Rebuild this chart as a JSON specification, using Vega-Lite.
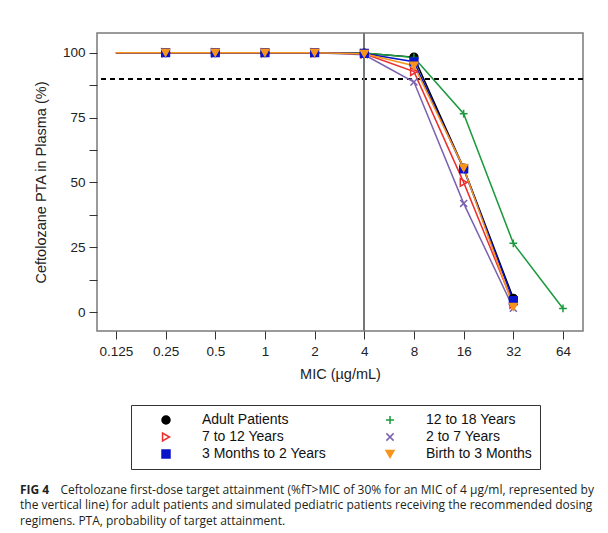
{
  "$schema": "https://vega.github.io/schema/vega-lite/v6.json",
  "autosize": {"type": "none"},
  "padding": {"left": 97, "top": 33, "right": 25, "bottom": 202},
  "width": 486,
  "height": 298,
  "background": "white",
  "title": {
    "text": "FIG 4",
    "subtitle": [
      "\u200b\u00a0\u00a0\u00a0\u00a0\u00a0\u00a0\u00a0\u00a0\u00a0\u00a0\u00a0\u00a0\u00a0Ceftolozane first-dose target attainment (%fT>MIC of 30% for an MIC of 4 µg/ml, represented by",
      "the vertical line) for adult patients and simulated pediatric patients receiving the recommended dosing",
      "regimens. PTA, probability of target attainment."
    ],
    "orient": "bottom",
    "anchor": "start",
    "frame": "group",
    "dx": -77,
    "offset": 15,
    "font": "Open Sans",
    "fontSize": 12,
    "fontWeight": "bold",
    "color": "#231f20",
    "subtitleFont": "Open Sans",
    "subtitleFontSize": 12,
    "subtitleColor": "#231f20",
    "subtitleLineHeight": 15.5,
    "subtitlePadding": -12
  },
  "data": {
    "values": [
      {"g": "Adult Patients", "mic": 0.125, "pta": 100},
      {"g": "Adult Patients", "mic": 0.25, "pta": 100},
      {"g": "Adult Patients", "mic": 0.5, "pta": 100},
      {"g": "Adult Patients", "mic": 1, "pta": 100},
      {"g": "Adult Patients", "mic": 2, "pta": 100},
      {"g": "Adult Patients", "mic": 4, "pta": 99.8},
      {"g": "Adult Patients", "mic": 8, "pta": 98.3},
      {"g": "Adult Patients", "mic": 16, "pta": 55.5},
      {"g": "Adult Patients", "mic": 32, "pta": 5.3},
      {"g": "12 to 18 Years", "mic": 0.125, "pta": 100},
      {"g": "12 to 18 Years", "mic": 0.25, "pta": 100},
      {"g": "12 to 18 Years", "mic": 0.5, "pta": 100},
      {"g": "12 to 18 Years", "mic": 1, "pta": 100},
      {"g": "12 to 18 Years", "mic": 2, "pta": 100},
      {"g": "12 to 18 Years", "mic": 4, "pta": 99.9},
      {"g": "12 to 18 Years", "mic": 8, "pta": 98.2},
      {"g": "12 to 18 Years", "mic": 16, "pta": 76.5},
      {"g": "12 to 18 Years", "mic": 32, "pta": 26.5},
      {"g": "12 to 18 Years", "mic": 64, "pta": 1.4},
      {"g": "2 to 7 Years", "mic": 0.125, "pta": 100},
      {"g": "2 to 7 Years", "mic": 0.25, "pta": 100},
      {"g": "2 to 7 Years", "mic": 0.5, "pta": 100},
      {"g": "2 to 7 Years", "mic": 1, "pta": 100},
      {"g": "2 to 7 Years", "mic": 2, "pta": 100},
      {"g": "2 to 7 Years", "mic": 4, "pta": 99.2},
      {"g": "2 to 7 Years", "mic": 8, "pta": 88.7},
      {"g": "2 to 7 Years", "mic": 16, "pta": 41.9},
      {"g": "2 to 7 Years", "mic": 32, "pta": 1.5},
      {"g": "7 to 12 Years", "mic": 0.125, "pta": 100},
      {"g": "7 to 12 Years", "mic": 0.25, "pta": 100},
      {"g": "7 to 12 Years", "mic": 0.5, "pta": 100},
      {"g": "7 to 12 Years", "mic": 1, "pta": 100},
      {"g": "7 to 12 Years", "mic": 2, "pta": 100},
      {"g": "7 to 12 Years", "mic": 4, "pta": 99.6},
      {"g": "7 to 12 Years", "mic": 8, "pta": 92.7},
      {"g": "7 to 12 Years", "mic": 16, "pta": 50},
      {"g": "7 to 12 Years", "mic": 32, "pta": 3},
      {"g": "3 Months to 2 Years", "mic": 0.125, "pta": 100},
      {"g": "3 Months to 2 Years", "mic": 0.25, "pta": 100},
      {"g": "3 Months to 2 Years", "mic": 0.5, "pta": 100},
      {"g": "3 Months to 2 Years", "mic": 1, "pta": 100},
      {"g": "3 Months to 2 Years", "mic": 2, "pta": 100},
      {"g": "3 Months to 2 Years", "mic": 4, "pta": 99.7},
      {"g": "3 Months to 2 Years", "mic": 8, "pta": 96.5},
      {"g": "3 Months to 2 Years", "mic": 16, "pta": 55.2},
      {"g": "3 Months to 2 Years", "mic": 32, "pta": 4.4},
      {"g": "Birth to 3 Months", "mic": 0.125, "pta": 100},
      {"g": "Birth to 3 Months", "mic": 0.25, "pta": 100},
      {"g": "Birth to 3 Months", "mic": 0.5, "pta": 100},
      {"g": "Birth to 3 Months", "mic": 1, "pta": 100},
      {"g": "Birth to 3 Months", "mic": 2, "pta": 100},
      {"g": "Birth to 3 Months", "mic": 4, "pta": 99.6},
      {"g": "Birth to 3 Months", "mic": 8, "pta": 95},
      {"g": "Birth to 3 Months", "mic": 16, "pta": 55.6},
      {"g": "Birth to 3 Months", "mic": 32, "pta": 2}
    ]
  },
  "encoding": {
    "x": {
      "field": "mic", "type": "quantitative",
      "scale": {"type": "log", "base": 2, "domain": [0.096, 84.6], "nice": false},
      "axis": {
        "values": [0.125, 0.25, 0.5, 1, 2, 4, 8, 16, 32, 64],
        "labelExpr": "'' + datum.value",
        "title": "MIC (µg/mL)",
        "tickSize": 8,
        "labelPadding": 5,
        "titlePadding": 10
      }
    },
    "y": {
      "field": "pta", "type": "quantitative",
      "scale": {"domain": [-7.3, 107.6], "nice": false, "zero": false},
      "axis": {
        "values": [0, 12.5, 25, 37.5, 50, 62.5, 75, 87.5, 100],
        "labelExpr": "datum.value % 25 == 0 ? '' + datum.value : ''",
        "title": "Ceftolozane PTA in Plasma (%)",
        "tickSize": 8,
        "labelPadding": 4,
        "titlePadding": 14
      }
    }
  },
  "layer": [
    {
      "mark": {"type": "rule", "color": "#000000", "strokeDash": [5, 4], "strokeWidth": 1},
      "encoding": {"y": {"datum": 90}, "x": null}
    },
    {
      "mark": {"type": "rule", "color": "#777777", "strokeWidth": 1.2},
      "encoding": {"x": {"datum": 4}, "y": null}
    },
    {
      "mark": {"type": "line", "strokeWidth": 1.5},
      "encoding": {
        "stroke": {
          "field": "g", "type": "nominal",
          "scale": {
            "domain": ["Adult Patients", "7 to 12 Years", "3 Months to 2 Years", "12 to 18 Years", "2 to 7 Years", "Birth to 3 Months"],
            "range": ["#000000", "#ee2d2d", "#0a14c8", "#1a9a3c", "#7a62b0", "#f7941d"]
          },
          "legend": {
            "orient": "none",
            "legendX": 34,
            "legendY": 372,
            "direction": "vertical",
            "columns": 2,
            "columnPadding": 36,
            "rowPadding": 3,
            "padding": 8,
            "title": null,
            "strokeColor": "#333333",
            "fillColor": "white",
            "labelFont": "Liberation Sans",
            "labelFontSize": 14,
            "labelColor": "#111111",
            "labelOffset": 29,
            "symbolOffset": 20,
            "symbolSize": 64,
            "symbolStrokeWidth": 1.5
          }
        }
      }
    },
    {
      "transform": [{"filter": "datum.mic >= 0.25"}],
      "mark": {"type": "point", "size": 60, "strokeWidth": 1.5, "opacity": 1},
      "encoding": {
        "stroke": {"field": "g", "type": "nominal"},
        "fill": {
          "field": "g", "type": "nominal",
          "scale": {
            "domain": ["Adult Patients", "7 to 12 Years", "3 Months to 2 Years", "12 to 18 Years", "2 to 7 Years", "Birth to 3 Months"],
            "range": ["#000000", "transparent", "#0a14c8", "transparent", "transparent", "#f7941d"]
          }
        },
        "shape": {
          "field": "g", "type": "nominal",
          "scale": {
            "domain": ["Adult Patients", "7 to 12 Years", "3 Months to 2 Years", "12 to 18 Years", "2 to 7 Years", "Birth to 3 Months"],
            "range": ["circle", "triangle-right", "square", "M-1,0L1,0M0,-1L0,1", "M-0.9,-0.9L0.9,0.9M-0.9,0.9L0.9,-0.9", "triangle-down"]
          }
        }
      }
    }
  ],
  "config": {
    "view": {"stroke": "#7a7a7a", "strokeWidth": 1.5},
    "axis": {
      "domain": false,
      "grid": false,
      "tickColor": "#333333",
      "tickWidth": 1,
      "labelFont": "Liberation Sans",
      "labelFontSize": 13.5,
      "labelColor": "#222222",
      "titleFont": "Liberation Sans",
      "titleFontSize": 14.5,
      "titleFontWeight": "normal",
      "titleColor": "#222222"
    }
  }
}
